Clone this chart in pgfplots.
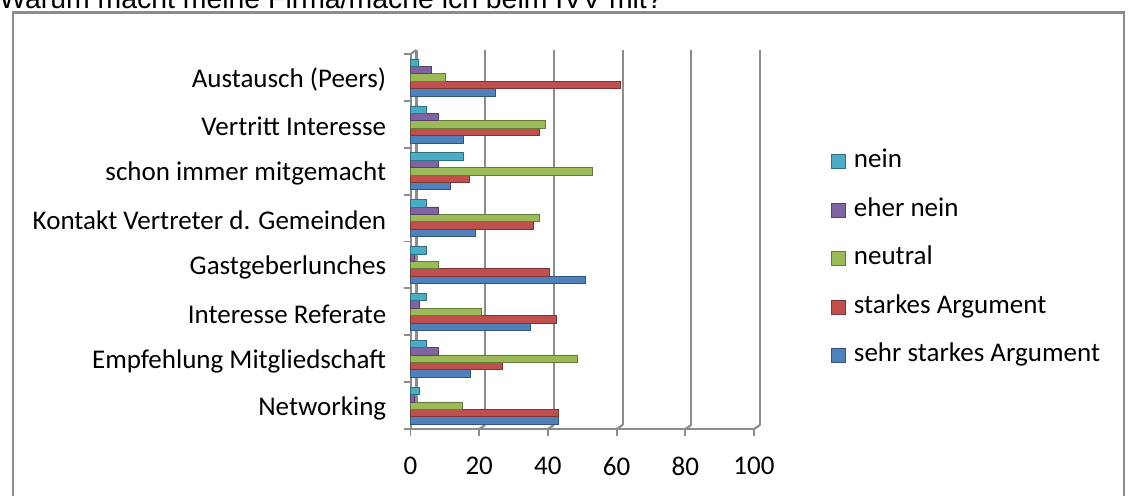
\documentclass[border=0pt]{standalone}
\usepackage{pgfplots}
\pgfplotsset{compat=1.18}
\usepackage{pgfplotstable}
\usepackage{fontspec}
\setmainfont{Carlito}
\newfontfamily\arialfont{Liberation Sans}
\definecolor{cBlue}{HTML}{4F81BD}
\definecolor{cRed}{HTML}{C0504D}
\definecolor{cGreen}{HTML}{9BBB59}
\definecolor{cPurple}{HTML}{8064A2}
\definecolor{cAqua}{HTML}{4BACC6}
\definecolor{frameGray}{RGB}{140,140,140}
\definecolor{gridGray}{RGB}{140,140,140}

\pgfplotstableread{
y  sehr  stark neutral eher nein
0  43    43    15      1    2.6
1  17.4  26.6  48.6    8.2  4.6
2  35    42.3  20.6    2.6  4.6
3  51    40.5  8       1    4.6
4  19    35.7  37.4    8.2  4.6
5  11.7  17    53      8    15.3
6  15.5  37.4  39.2    8.2  4.6
7  24.7  61    10      6    2.3
}\datatable

\begin{document}
\begin{tikzpicture}[x=1pt,y=1pt]
\useasboundingbox (0,0) rectangle (564,247.5);
\draw[frameGray, line width=1.3pt] (6.5,-5) rectangle (562,241.25);
\node[anchor=base west, inner sep=0pt, font=\arialfont\fontsize{14.2}{16}\selectfont] at (-0.5,243.3) {Warum macht meine Firma/mache ich beim IVV mit?};
\begin{axis}[
  at={(205.25pt,33pt)}, anchor=south west,
  scale only axis, width=171.75pt, height=187.5pt,
  xbar=0pt, bar width=3.7pt,
  xmin=0, xmax=100, ymin=-0.5, ymax=7.5,
  axis lines*=left,
  axis line style={-, draw=gridGray, line width=1pt},
  xtick={0,20,...,100},
  ytick={-0.5,0.5,...,7.5},
  yticklabels={},
  extra y ticks={0,...,7},
  extra y tick labels={Networking\ ,Empfehlung Mitgliedschaft,Interesse Referate,Gastgeberlunches,Kontakt Vertreter d. Gemeinden,schon immer mitgemacht,Vertritt Interesse,Austausch (Peers)},
  extra y tick style={major tick length=0pt, tick style={draw=none}, yticklabel style={inner sep=0pt, xshift=-12pt, yshift=-1.2pt}},
  major tick length=3.5pt,
  tick align=outside,
  tick style={draw=gridGray, line width=0.9pt},
  xmajorgrids,
  major x grid style={draw=gridGray, line width=1.1pt, xshift=3pt, yshift=2pt},
  /pgf/number format/assume math mode=true,
  ticklabel style={font=\fontsize{13.5}{15}\selectfont, text=black},
  xticklabel style={yshift=-7pt},
  legend style={at={(1.224,0.748)}, anchor=north west, draw=none, fill=none,
    font=\fontsize{13.5}{15}\selectfont, inner sep=0pt,
    row sep=11.75pt,
    nodes={inner sep=0pt, text height=9.5pt, text depth=3pt},
    /tikz/every odd column/.append style={column sep=4pt}},
  legend cell align=left,
  reverse legend,
  legend image code/.code={\fill[#1] (0pt,-3.5pt) rectangle (7pt,3.5pt);},
  clip=false,
]
\pgfplotsinvokeforeach{20,40,60,80,100}{
  \draw[gridGray, line width=1.1pt] (axis cs:#1,-0.5) -- ++(3pt,2pt);
}
\draw[gridGray, line width=1pt] (axis cs:0,7.5) -- ++(3pt,2pt);
\addplot[fill=cBlue, draw=cBlue!65!black, line width=0.3pt] table[x=sehr, y=y] {\datatable};
\addlegendentry{sehr starkes Argument}
\addplot[fill=cRed, draw=cRed!65!black, line width=0.3pt] table[x=stark, y=y] {\datatable};
\addlegendentry{starkes Argument}
\addplot[fill=cGreen, draw=cGreen!65!black, line width=0.3pt] table[x=neutral, y=y] {\datatable};
\addlegendentry{neutral}
\addplot[fill=cPurple, draw=cPurple!65!black, line width=0.3pt] table[x=eher, y=y] {\datatable};
\addlegendentry{eher nein}
\addplot[fill=cAqua, draw=cAqua!65!black, line width=0.3pt] table[x=nein, y=y] {\datatable};
\addlegendentry{nein}
\end{axis}
\end{tikzpicture}
\end{document}
